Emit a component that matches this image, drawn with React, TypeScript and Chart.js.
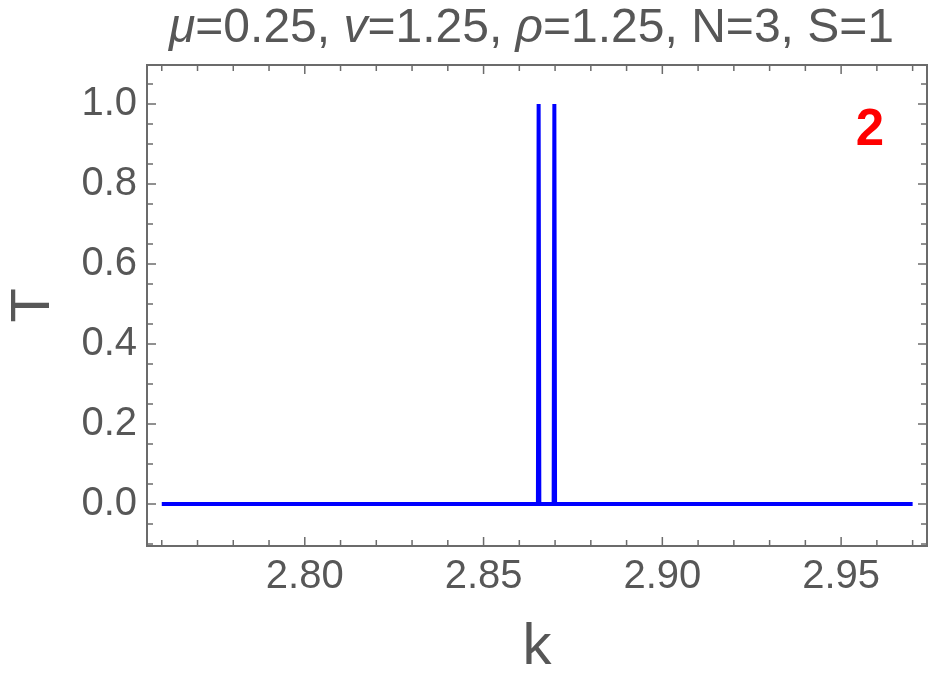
import React, { useEffect, useRef } from 'react';
import { Chart, registerables } from 'chart.js';

Chart.register(...registerables);

// ---- data ----
const kValues = [2.76, 2.8652, 2.8654, 2.8656, 2.8696, 2.8698, 2.87, 2.97];
const tValues = [0, 0, 1, 0, 0, 1, 0, 0];

// ---- axes ----
const xMajorTicks = [2.8, 2.85, 2.9, 2.95];
const xMinorTicks = [2.76, 2.77, 2.78, 2.79, 2.81, 2.82, 2.83, 2.84, 2.86, 2.87, 2.88, 2.89, 2.91, 2.92, 2.93, 2.94, 2.96, 2.97];
const yMajorTicks = [0, 0.2, 0.4, 0.6, 0.8, 1.0];
const yMinorTicks = [-0.1, -0.05, 0.05, 0.1, 0.15, 0.25, 0.3, 0.35, 0.45, 0.5, 0.55, 0.65, 0.7, 0.75, 0.85, 0.9, 0.95, 1.05];
const xRange = [2.75587, 2.97402];
const yRange = [-0.105, 1.0975];

// ---- text ----
const titleParts = [
  { text: 'μ', italic: true },
  { text: '=0.25, ', italic: false },
  { text: 'v', italic: true },
  { text: '=1.25, ', italic: false },
  { text: 'ρ', italic: true },
  { text: '=1.25, N=3, S=1', italic: false },
];
const xTitle = 'k';
const yTitle = 'T';
const panelLabel = '2';

const FONT = '"Liberation Sans", Arial, sans-serif';
const TEXT_COLOR = '#575757';
const FRAME_COLOR = '#6b6b6b';
const LINE_COLOR = '#0000ff';

const framePlugin = {
  id: 'frameTicks',
  beforeDatasetsDraw(chart: any) {
    const { ctx, chartArea, scales } = chart;
    const { left, right, top, bottom } = chartArea;
    const x = scales.x;
    const y = scales.y;
    ctx.save();
    ctx.strokeStyle = FRAME_COLOR;
    ctx.lineWidth = 2;
    ctx.strokeRect(left, top, right - left, bottom - top);
    ctx.lineWidth = 1.5;
    const seg = (x1: number, y1: number, x2: number, y2: number) => {
      ctx.beginPath();
      ctx.moveTo(x1, y1);
      ctx.lineTo(x2, y2);
      ctx.stroke();
    };
    const MAJ = 9;
    const MIN = 6;
    xMajorTicks.forEach((v) => {
      const p = x.getPixelForValue(v);
      seg(p, bottom, p, bottom - MAJ);
      seg(p, top, p, top + MAJ);
    });
    xMinorTicks.forEach((v) => {
      const p = x.getPixelForValue(v);
      seg(p, bottom, p, bottom - MIN);
      seg(p, top, p, top + MIN);
    });
    yMajorTicks.forEach((v) => {
      const p = y.getPixelForValue(v);
      seg(left, p, left + MAJ, p);
      seg(right, p, right - MAJ, p);
    });
    yMinorTicks.forEach((v) => {
      const p = y.getPixelForValue(v);
      seg(left, p, left + MIN, p);
      seg(right, p, right - MIN, p);
    });
    ctx.restore();
  },
  afterDraw(chart: any) {
    const { ctx } = chart;
    ctx.save();
    // title with mixed italic segments
    const size = 48;
    const fontFor = (it: boolean) => `${it ? 'italic ' : ''}${size}px ${FONT}`;
    let total = 0;
    const widths = titleParts.map((p) => {
      ctx.font = fontFor(p.italic);
      const w = ctx.measureText(p.text).width;
      total += w;
      return w;
    });
    let cx = 531.5 - total / 2;
    ctx.fillStyle = TEXT_COLOR;
    ctx.textBaseline = 'alphabetic';
    ctx.textAlign = 'left';
    titleParts.forEach((p, i) => {
      ctx.font = fontFor(p.italic);
      ctx.fillText(p.text, cx, 42);
      cx += widths[i];
    });
    // panel label
    ctx.font = `bold 51px ${FONT}`;
    ctx.fillStyle = '#ff0000';
    ctx.textAlign = 'center';
    ctx.fillText(panelLabel, 870, 145);
    ctx.restore();
  },
};

export default function App() {
  const canvasRef = useRef<HTMLCanvasElement | null>(null);

  useEffect(() => {
    if (!canvasRef.current) return;
    const chart = new Chart(canvasRef.current, {
      type: 'line',
      data: {
        datasets: [
          {
            data: kValues.map((k, i) => ({ x: k, y: tValues[i] })),
            borderColor: LINE_COLOR,
            borderWidth: 4,
            pointRadius: 0,
            tension: 0,
            fill: false,
          },
        ],
      },
      options: {
        responsive: false,
        animation: false,
        layout: { padding: { left: 0, right: 11, top: 65, bottom: 0 } },
        plugins: {
          legend: { display: false },
          tooltip: { enabled: false },
          title: { display: false },
        },
        scales: {
          x: {
            type: 'linear',
            min: xRange[0],
            max: xRange[1],
            grid: { display: false, drawTicks: false },
            border: { display: false },
            afterBuildTicks: (s: any) => {
              s.ticks = xMajorTicks.map((v) => ({ value: v }));
            },
            afterFit: (s: any) => {
              s.height = 137;
            },
            ticks: {
              callback: (v: any) => Number(v).toFixed(2),
              font: { family: FONT, size: 40 },
              color: TEXT_COLOR,
              padding: 7,
              maxRotation: 0,
              autoSkip: false,
            },
            title: {
              display: true,
              text: xTitle,
              font: { family: FONT, size: 58 },
              color: TEXT_COLOR,
              padding: 0,
            },
          },
          y: {
            type: 'linear',
            min: yRange[0],
            max: yRange[1],
            grid: { display: false, drawTicks: false },
            border: { display: false },
            afterBuildTicks: (s: any) => {
              s.ticks = yMajorTicks.map((v) => ({ value: v }));
            },
            afterFit: (s: any) => {
              s.width = 147;
            },
            ticks: {
              callback: (v: any) => Number(v).toFixed(1),
              font: { family: FONT, size: 40 },
              color: TEXT_COLOR,
              padding: 10,
              autoSkip: false,
            },
            title: {
              display: true,
              text: yTitle,
              font: { family: FONT, size: 56 },
              color: TEXT_COLOR,
              padding: 0,
            },
          },
        },
      },
      plugins: [framePlugin],
    });
    return () => chart.destroy();
  }, []);

  return (
    <div style={{ position: 'absolute', left: 0, top: 0, width: 938, height: 683, background: '#fff' }}>
      <canvas ref={canvasRef} width={938} height={683} style={{ display: 'block' }} />
    </div>
  );
}
